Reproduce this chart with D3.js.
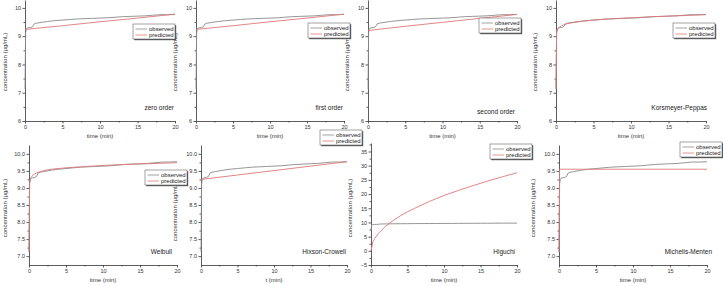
<!DOCTYPE html>
<html>
<head>
<meta charset="utf-8">
<script src="https://cdn.jsdelivr.net/npm/d3@7"></script>
<style>
  body { margin: 0; background: #fff; }
  svg { display: block; font-family: "Liberation Sans", Arial, sans-serif; }
  .axis path, .axis line { stroke: #333; stroke-width: 0.8; }
  .axis text { font-size: 5.5px; fill: #333; }
</style>
</head>
<body>
<div id="chart"></div>
<script>
// observed release data (same in every panel)
const obsTime = [0, 0.083, 0.167, 0.25, 0.5, 0.75, 1, 1.25, 1.5, 2, 3, 4, 5, 6, 7, 8, 9, 10, 11, 12, 13, 14, 15, 16, 17, 18, 19, 20];
const obsConc = [7.13, 9.12, 9.24, 9.28, 9.30, 9.31, 9.33, 9.44, 9.46, 9.48, 9.52, 9.55, 9.57, 9.59, 9.61, 9.62, 9.63, 9.64, 9.65, 9.67, 9.69, 9.70, 9.71, 9.72, 9.74, 9.76, 9.76, 9.77];

// predicted curves, one pair per model
const zeroTime = [0, 5, 10, 15, 20];
const zeroConc = [9.24, 9.37, 9.51, 9.64, 9.78];
const firstTime = [0, 5, 10, 15, 20];
const firstConc = [9.24, 9.37, 9.51, 9.64, 9.78];
const secondTime = [0, 5, 10, 15, 20];
const secondConc = [9.20, 9.35, 9.49, 9.63, 9.77];
const kpTime = [0, 0.083, 0.167, 0.25, 0.5, 0.75, 1, 1.5, 2, 3, 5, 7, 10, 13, 16, 20];
const kpConc = [7.13, 9.14, 9.22, 9.27, 9.33, 9.37, 9.40, 9.44, 9.47, 9.51, 9.57, 9.61, 9.65, 9.69, 9.72, 9.76];
const weibullTime = [0, 0.083, 0.167, 0.25, 0.5, 0.75, 1, 1.5, 2, 3, 5, 7, 10, 13, 16, 20];
const weibullConc = [7.13, 9.15, 9.25, 9.30, 9.37, 9.41, 9.44, 9.48, 9.51, 9.55, 9.59, 9.62, 9.66, 9.69, 9.71, 9.74];
const hixsonTime = [0, 5, 10, 15, 20];
const hixsonConc = [9.25, 9.38, 9.51, 9.64, 9.77];
const higuchiTime = [0, 0.25, 0.5, 1, 2, 3, 4, 5, 6, 8, 10, 12, 14, 16, 18, 20];
const higuchiConc = [0, 3.1, 4.3, 6.1, 8.7, 10.6, 12.3, 13.8, 15.0, 17.4, 19.5, 21.3, 23.0, 24.6, 26.1, 27.5];
const mmTime = [0, 0.083, 5, 10, 15, 20];
const mmConc = [7.13, 9.55, 9.55, 9.55, 9.55, 9.55];

const modelNames = ["zero order", "first order", "second order", "Korsmeyer-Peppas",
                    "Weibull", "Hixson-Crowell", "Higuchi", "Michelis-Menten"];

// tick labels
const xTicks = [0, 5, 10, 15, 20];
const xMinor = [2.5, 7.5, 12.5, 17.5];
const topYTicks = [6, 7, 8, 9, 10];
const topYMinor = [6.5, 7.5, 8.5, 9.5];
const lowYTicks = [7.0, 7.5, 8.0, 8.5, 9.0, 9.5, 10.0];
const lowYMinor = [7.25, 7.75, 8.25, 8.75, 9.25, 9.75];
const higuchiYTicks = [-5, 0, 5, 10, 15, 20, 25, 30, 35];
const higuchiYMinor = [-2.5, 2.5, 7.5, 12.5, 17.5, 22.5, 27.5, 32.5, 37.5];

const legendLabels = ["observed", "predicted"];
const obsColor = "#8a8a8a";
const predColor = "#dc7878";

// layout of the 8 panels
const panels = [
  { t: zeroTime, c: zeroConc, left: 25, right: 175, top: 0, bottom: 121, dom: [6, 10.28], ticks: topYTicks, minor: topYMinor, fmt: "d", ylab: 5, ylabY: 62, annX: 174, annY: 108, leg: [133, 24], xt: "time (min)" },
  { t: firstTime, c: firstConc, left: 196, right: 344, top: 0, bottom: 121, dom: [6, 10.28], ticks: topYTicks, minor: topYMinor, fmt: "d", ylab: 175, ylabY: 62, annX: 343, annY: 108, leg: [308, 23], xt: "time (min)" },
  { t: secondTime, c: secondConc, left: 368, right: 517, top: 0, bottom: 121, dom: [6, 10.28], ticks: topYTicks, minor: topYMinor, fmt: "d", ylab: 347, ylabY: 62, annX: 515, annY: 112, leg: [479, 18], xt: "time (min)" },
  { t: kpTime, c: kpConc, left: 556, right: 706, top: 0, bottom: 121, dom: [6, 10.28], ticks: topYTicks, minor: topYMinor, fmt: "d", ylab: 535, ylabY: 62, annX: 707, annY: 108, leg: [673, 23], xt: "time (min)" },
  { t: weibullTime, c: weibullConc, left: 29, right: 177, top: 145, bottom: 265, dom: [6.74, 10.26], ticks: lowYTicks, minor: lowYMinor, fmt: ".1f", ylab: 5, ylabY: 208, annX: 172, annY: 252, leg: [145, 170], xt: "time (min)" },
  { t: hixsonTime, c: hixsonConc, left: 201, right: 347, top: 145, bottom: 265, dom: [6.74, 10.26], ticks: lowYTicks, minor: lowYMinor, fmt: ".1f", ylab: 175, ylabY: 212, annX: 346, annY: 252, leg: [320, 130], xt: "t (min)" },
  { t: higuchiTime, c: higuchiConc, left: 371, right: 517, top: 143, bottom: 265, dom: [-5, 38], ticks: higuchiYTicks, minor: higuchiYMinor, fmt: "d", ylab: 350, ylabY: 208, annX: 515, annY: 252, leg: [490, 144], xt: "time (min)" },
  { t: mmTime, c: mmConc, left: 559, right: 707, top: 145, bottom: 265, dom: [6.74, 10.26], ticks: lowYTicks, minor: lowYMinor, fmt: ".1f", ylab: 533, ylabY: 208, annX: 712, annY: 252, leg: [680, 142], xt: "time (min)" }
];

const svg = d3.select("#chart").append("svg")
  .attr("width", 723)
  .attr("height", 286);

const plotLayer = svg.append("g");
const legendLayer = svg.append("g");

panels.forEach((p, i) => {
  const g = plotLayer.append("g");

  const x = d3.scaleLinear().domain([0, 20]).range([p.left, p.right]);
  const y = d3.scaleLinear().domain(p.dom).range([p.bottom, p.top]);

  // axes - major then minor ticks
  g.append("g").attr("class", "axis")
    .attr("transform", `translate(0,${p.bottom})`)
    .call(d3.axisBottom(x).tickValues(xTicks).tickSize(2.5).tickSizeOuter(0).tickPadding(1.5).tickFormat(d3.format("d")));
  g.append("g").attr("class", "axis")
    .attr("transform", `translate(0,${p.bottom})`)
    .call(d3.axisBottom(x).tickValues(xMinor).tickSize(1.5).tickSizeOuter(0).tickFormat(""))
    .select(".domain").remove();

  g.append("g").attr("class", "axis")
    .attr("transform", `translate(${p.left},0)`)
    .call(d3.axisLeft(y).tickValues(p.ticks).tickSize(2.5).tickSizeOuter(0).tickPadding(1.5).tickFormat(d3.format(p.fmt)));
  g.append("g").attr("class", "axis")
    .attr("transform", `translate(${p.left},0)`)
    .call(d3.axisLeft(y).tickValues(p.minor).tickSize(1.5).tickSizeOuter(0).tickFormat(""))
    .select(".domain").remove();

  // axis titles
  g.append("text")
    .attr("x", (p.left + p.right) / 2)
    .attr("y", p.bottom + 17)
    .attr("text-anchor", "middle")
    .style("font-size", "6px")
    .style("fill", "#333")
    .text(p.xt);

  g.append("text")
    .attr("transform", `translate(${p.ylab + 2},${p.ylabY}) rotate(-90)`)
    .attr("text-anchor", "middle")
    .style("font-size", "6px")
    .style("fill", "#333")
    .text("concentration (\u03bcg/mL)");

  // curves
  const line = d3.line().x(d => x(d[0])).y(d => y(d[1]));

  g.append("path")
    .datum(obsTime.map((t, k) => [t, obsConc[k]]))
    .attr("d", line)
    .attr("fill", "none")
    .attr("stroke", obsColor)
    .attr("stroke-width", 0.9);

  g.append("path")
    .datum(p.t.map((t, k) => [t, p.c[k]]))
    .attr("d", line)
    .attr("fill", "none")
    .attr("stroke", predColor)
    .attr("stroke-width", 0.9);

  // model name
  g.append("text")
    .attr("x", p.annX)
    .attr("y", p.annY + 2.2)
    .attr("text-anchor", "end")
    .style("font-size", "6.5px")
    .style("fill", "#222")
    .text(modelNames[i]);

  // legend box with drop shadow
  const lg = legendLayer.append("g")
    .attr("transform", `translate(${p.leg[0]},${p.leg[1]})`);
  lg.append("rect")
    .attr("x", 1.2).attr("y", 1.2)
    .attr("width", 42).attr("height", 15)
    .attr("fill", "#555");
  lg.append("rect")
    .attr("width", 42).attr("height", 15)
    .attr("fill", "#fff")
    .attr("stroke", "#666")
    .attr("stroke-width", 0.6);

  legendLabels.forEach((lab, k) => {
    const ly = 5 + k * 6;
    lg.append("line")
      .attr("x1", 2.5).attr("x2", 14)
      .attr("y1", ly).attr("y2", ly)
      .attr("stroke", k === 0 ? obsColor : predColor)
      .attr("stroke-width", 0.8);
    lg.append("text")
      .attr("x", 16)
      .attr("y", ly + 2)
      .style("font-size", "6px")
      .style("fill", "#222")
      .text(lab);
  });
});
</script>
</body>
</html>
